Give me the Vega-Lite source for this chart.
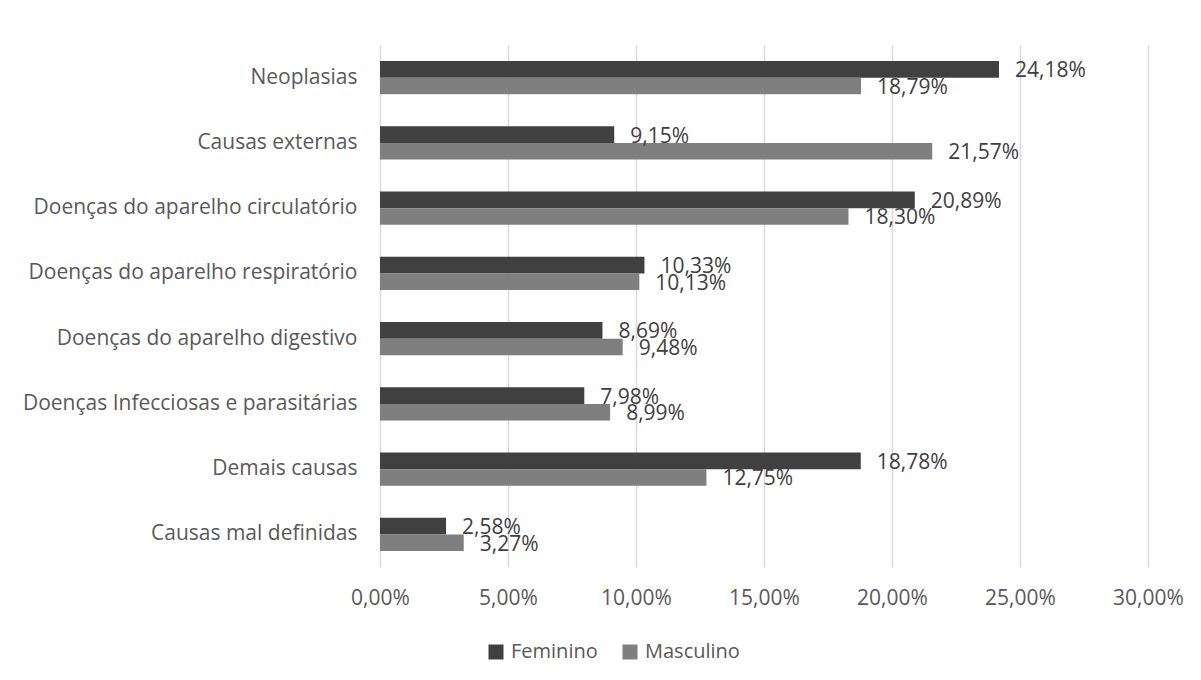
{
  "$schema": "https://vega.github.io/schema/vega-lite/v6.json",
  "autosize": {"type": "none"},
  "padding": {"left": 380, "top": 45, "right": 53, "bottom": 113},
  "width": 768,
  "height": 522,
  "background": "white",
  "config": {
    "locale": {"number": {"decimal": ",", "thousands": ".", "grouping": [3], "currency": ["", " €"]}},
    "view": {"stroke": null},
    "font": "Open Sans"
  },
  "data": {
    "values": [
      {"causa": "Neoplasias", "sexo": "Feminino", "valor": 0.2418},
      {"causa": "Neoplasias", "sexo": "Masculino", "valor": 0.1879},
      {"causa": "Causas externas", "sexo": "Feminino", "valor": 0.0915},
      {"causa": "Causas externas", "sexo": "Masculino", "valor": 0.2157},
      {"causa": "Doenças do aparelho circulatório", "sexo": "Feminino", "valor": 0.2089},
      {"causa": "Doenças do aparelho circulatório", "sexo": "Masculino", "valor": 0.1830},
      {"causa": "Doenças do aparelho respiratório", "sexo": "Feminino", "valor": 0.1033},
      {"causa": "Doenças do aparelho respiratório", "sexo": "Masculino", "valor": 0.1013},
      {"causa": "Doenças do aparelho digestivo", "sexo": "Feminino", "valor": 0.0869},
      {"causa": "Doenças do aparelho digestivo", "sexo": "Masculino", "valor": 0.0948},
      {"causa": "Doenças Infecciosas e parasitárias", "sexo": "Feminino", "valor": 0.0798},
      {"causa": "Doenças Infecciosas e parasitárias", "sexo": "Masculino", "valor": 0.0899},
      {"causa": "Demais causas", "sexo": "Feminino", "valor": 0.1878},
      {"causa": "Demais causas", "sexo": "Masculino", "valor": 0.1275},
      {"causa": "Causas mal definidas", "sexo": "Feminino", "valor": 0.0258},
      {"causa": "Causas mal definidas", "sexo": "Masculino", "valor": 0.0327}
    ]
  },
  "encoding": {
    "y": {
      "field": "causa",
      "type": "nominal",
      "sort": null,
      "scale": {"paddingInner": 0.49, "paddingOuter": 0.245},
      "axis": {
        "title": null,
        "domain": false,
        "ticks": false,
        "labelFontSize": 21,
        "labelColor": "#595959",
        "labelPadding": 23,
        "labelLimit": 400
      }
    },
    "yOffset": {
      "field": "sexo",
      "type": "nominal",
      "sort": ["Feminino", "Masculino"],
      "scale": {"paddingInner": 0, "paddingOuter": 0}
    },
    "x": {
      "field": "valor",
      "type": "quantitative",
      "scale": {"domain": [0, 0.3], "nice": false},
      "axis": {
        "title": null,
        "format": ".2%",
        "values": [0, 0.05, 0.1, 0.15, 0.2, 0.25, 0.3],
        "domain": false,
        "ticks": false,
        "grid": true,
        "gridColor": "#d9d9d9",
        "gridWidth": 1.5,
        "labelFlush": false,
        "labelFontSize": 21,
        "labelColor": "#595959",
        "labelPadding": 20
      }
    }
  },
  "layer": [
    {
      "mark": {"type": "bar"},
      "encoding": {
        "color": {
          "field": "sexo",
          "type": "nominal",
          "sort": ["Feminino", "Masculino"],
          "scale": {"domain": ["Feminino", "Masculino"], "range": ["#404040", "#7f7f7f"]},
          "legend": {
            "title": null,
            "orient": "none",
            "direction": "horizontal",
            "legendX": 106,
            "legendY": 597,
            "symbolType": "square",
            "symbolSize": 225,
            "symbolStrokeWidth": 0,
            "labelFontSize": 20,
            "labelColor": "#595959",
            "labelOffset": 5,
            "columnPadding": 22
          }
        }
      }
    },
    {
      "mark": {"type": "text", "align": "left", "baseline": "middle", "dx": 16, "dy": 2, "fontSize": 21, "color": "#404040"},
      "encoding": {
        "text": {"field": "valor", "type": "quantitative", "format": ".2%"}
      }
    }
  ]
}
